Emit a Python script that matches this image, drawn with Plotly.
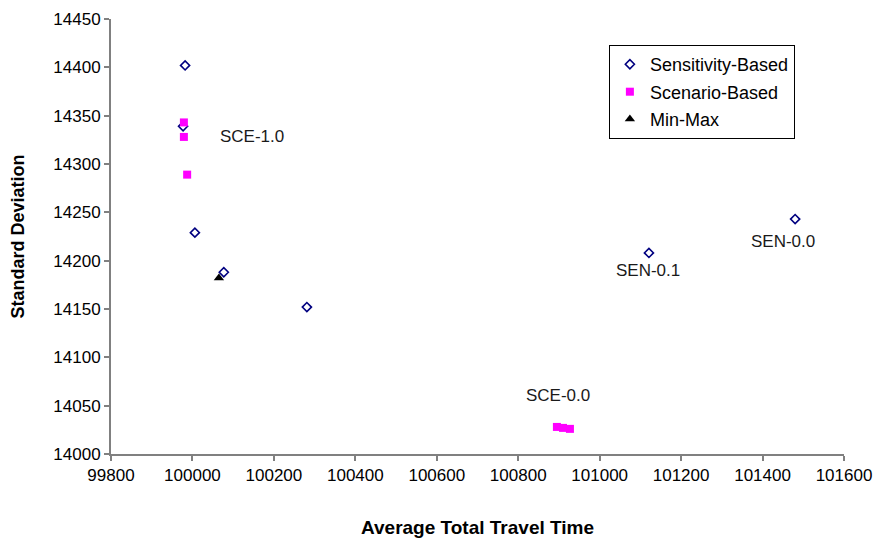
import plotly.graph_objects as go

# Data
sens_x = [99982, 99977, 100006, 100077, 100281, 101121, 101480]
sens_y = [14402, 14339, 14229, 14188, 14152, 14208, 14243]
scen_x = [99979, 99979, 99987, 100895, 100910, 100927]
scen_y = [14343, 14328, 14289, 14028, 14027, 14026]
mm_x = [100065]
mm_y = [14182]

label_text = ["SCE-1.0", "SEN-0.1", "SEN-0.0", "SCE-0.0"]
label_x = [100146, 101119, 101450, 100898]
label_y = [14328, 14190, 14220, 14061]

x_ticks = list(range(99800, 101601, 200))
y_ticks = list(range(14000, 14451, 50))

FONT = "Liberation Sans, Arial, sans-serif"

fig = go.Figure()
fig.add_trace(go.Scatter(x=sens_x, y=sens_y, mode="markers", name="Sensitivity-Based",
                         legendgroup="a",
                         marker=dict(symbol="diamond-open", size=7, color="#000080",
                                     line=dict(width=1.6, color="#000080"))))
fig.add_trace(go.Scatter(x=scen_x, y=scen_y, mode="markers", name="Scenario-Based",
                         legendgroup="b",
                         marker=dict(symbol="square", size=8, color="#FF00FF")))
fig.add_trace(go.Scatter(x=mm_x, y=mm_y, mode="markers", name="Min-Max",
                         legendgroup="c",
                         marker=dict(symbol="triangle-up", size=9, color="black")))

for t, x, y in zip(label_text, label_x, label_y):
    fig.add_annotation(x=x, y=y, text=t, showarrow=False,
                       font=dict(family=FONT, size=17, color="#1a1a1a"))

fig.update_layout(
    width=876, height=541,
    margin=dict(l=111, r=32, t=19, b=87, autoexpand=False),
    paper_bgcolor="white", plot_bgcolor="white",
    font=dict(family=FONT, size=17, color="black"),
    showlegend=True,
    legend=dict(x=0.933, y=0.94, xanchor="right", yanchor="top",
                bordercolor="black", borderwidth=1, bgcolor="white",
                font=dict(family=FONT, size=18, color="black"),
                itemwidth=30, tracegroupgap=1),
    xaxis=dict(range=[99800, 101600], tickvals=x_ticks, ticktext=[str(v) for v in x_ticks],
               showgrid=False, zeroline=False, showline=True, linecolor="#808080", linewidth=2,
               ticks="outside", ticklen=5, tickcolor="#808080", tickwidth=1.5,
               automargin=False,
               tickfont=dict(family=FONT, size=17, color="black"),
               title=dict(text="<b>Average Total Travel Time</b>", standoff=36,
                          font=dict(family=FONT, size=19, color="black"))),
    yaxis=dict(range=[14000, 14450], tickvals=y_ticks, ticktext=[str(v) for v in y_ticks],
               showgrid=False, zeroline=False, showline=True, linecolor="#808080", linewidth=2,
               ticks="outside", ticklen=5, tickcolor="#808080", tickwidth=1.5,
               automargin=False,
               tickfont=dict(family=FONT, size=17, color="black"),
               title=dict(text="<b>Standard Deviation</b>", standoff=24,
                          font=dict(family=FONT, size=18, color="black"))),
)

fig.write_html("out.html", config={"displayModeBar": False},
               post_script="document.body.style.margin='0';")
